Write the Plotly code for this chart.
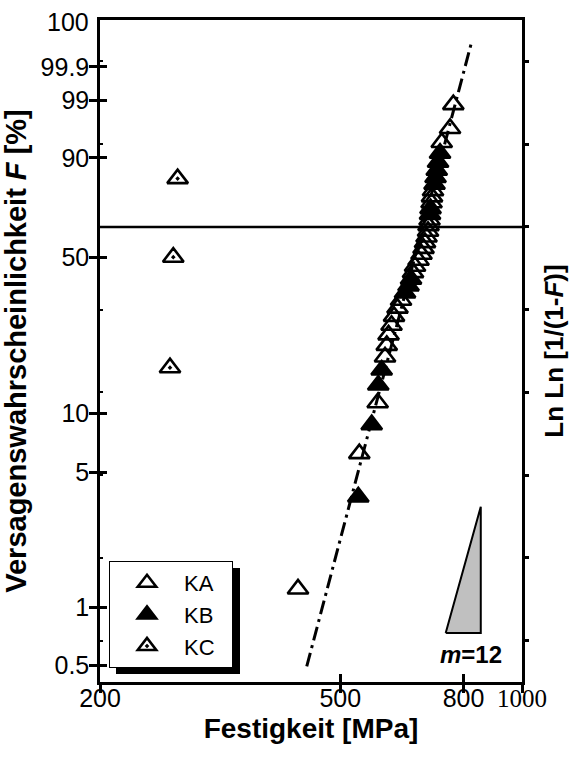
import numpy as np
import plotly.graph_objects as go

# ---------------- data ----------------
ka_strength = [425.6, 537.7, 576.7, 593.1, 597.0, 601.1, 608.0, 613.8, 622.0, 630.4,
               659.9, 665.0, 673.9, 681.6, 686.9, 690.8, 694.8, 698.8, 700.1, 702.8,
               708.2, 709.5, 712.2, 736.3, 760.0, 769.6]
ka_F = [1.25, 6.25, 11.25, 18.75, 21.25, 23.75, 26.25, 28.75, 31.25, 33.75,
        43.75, 46.25, 48.75, 51.25, 53.75, 56.25, 58.75, 61.25, 63.75, 66.25,
        73.75, 76.25, 78.75, 93.75, 96.25, 98.75]

kb_strength = [535.6, 563.7, 578.0, 585.6, 640.1, 648.7, 654.9, 704.1, 705.5, 716.3,
               719.1, 722.4, 726.0, 731.5]
kb_F = [3.75, 8.75, 13.75, 16.25, 36.25, 38.75, 41.25, 68.75, 71.25, 81.25,
        83.75, 86.25, 88.75, 91.25]

kc_strength = [261.2, 264.5, 268.9]
kc_F = [16.67, 50.0, 83.33]

fit_strength = [440, 826]       # end points of the dash-dot Weibull line
weibull_m = 12
weibull_sigma0 = 685

slope_strength = [747.5, 854.5, 854.5, 747.5]   # m=12 slope triangle (closed)
slope_lnln = [-4.909, -4.909, -3.382, -4.909]

y_tick_F = [0.5, 1, 5, 10, 50, 90, 99, 99.9]
y_tick_labels = ["0.5", "1", "5", "10", "50", "90", "99", "99.9"]
lnln_ticks = [-5, -4, -3, -2, -1, 0, 1, 2]
x_tick_vals = [200, 500, 800, 1000]
x_tick_labels = ["200", "500", "800",
                 '<span style="font-family:Liberation Serif">1000</span>']


def lnln(F_pct):
    F = np.asarray(F_pct, dtype=float) / 100.0
    return np.log(-np.log(1.0 - F))


Y_RANGE = [-5.5, 2.5]
X_RANGE = [np.log10(200), 3.0]
SANS = "Liberation Sans, Arial, sans-serif"
LW = 2.5
NB = "\u00a0"
MS = 18

fig = go.Figure()

fig.add_trace(go.Scatter(
    x=ka_strength, y=lnln(ka_F), mode="markers", name="KA" + NB * 2,
    marker=dict(symbol="triangle-up-open", size=MS, color="black",
                line=dict(color="black", width=2.6))))
fig.add_trace(go.Scatter(
    x=kb_strength, y=lnln(kb_F), mode="markers", name="KB" + NB * 2,
    marker=dict(symbol="triangle-up", size=MS, color="black",
                line=dict(color="black", width=2.6))))
fig.add_trace(go.Scatter(
    x=kc_strength, y=lnln(kc_F), mode="markers", name="KC" + NB * 2,
    marker=dict(symbol="triangle-up-open-dot", size=MS, color="black",
                line=dict(color="black", width=2.6))))

fit_y = [weibull_m * (np.log(s) - np.log(weibull_sigma0)) for s in fit_strength]
fig.add_trace(go.Scatter(
    x=fit_strength, y=fit_y, mode="lines", showlegend=False,
    line=dict(color="black", width=3, dash="14px,5px,3px,5px")))

fig.add_trace(go.Scatter(
    x=slope_strength, y=slope_lnln, mode="lines", fill="toself",
    fillcolor="#c0c0c0", showlegend=False,
    line=dict(color="black", width=2)))

# overlay axes only used for extra tick marks
fig.add_trace(go.Scatter(x=[500], y=[0], xaxis="x2", yaxis="y3",
                         mode="markers", marker=dict(opacity=0),
                         showlegend=False, hoverinfo="skip"))
fig.add_trace(go.Scatter(x=[500], y=[0], xaxis="x", yaxis="y2",
                         mode="markers", marker=dict(opacity=0),
                         showlegend=False, hoverinfo="skip"))

fig.add_shape(type="line", xref="paper", yref="y", x0=0, x1=1.008, y0=0, y1=0,
              line=dict(color="black", width=LW))

# legend shadow
fig.add_shape(type="rect", xref="paper", yref="paper",
              x0=(116 - 100) / 422, x1=(240 - 100) / 422,
              y0=(682 - 674) / 662, y1=(682 - 568) / 662,
              fillcolor="black", line=dict(width=0), layer="above")

fig.add_annotation(xref="paper", yref="y", x=0, y=Y_RANGE[1], text="100",
                   showarrow=False, xanchor="right", yanchor="middle", xshift=-9,
                   yshift=-2, font=dict(family=SANS, size=25, color="black"))
fig.add_annotation(xref="x", yref="y", x=np.log10(822), y=-5.17,
                   text="<b><i>m</i>=12</b>", showarrow=False,
                   font=dict(family=SANS, size=24, color="black"))

fig.update_layout(
    width=570, height=758,
    margin=dict(l=100, r=48, t=20, b=76, autoexpand=False),
    paper_bgcolor="white", plot_bgcolor="white",
    font=dict(family=SANS, size=24, color="black"),
    hovermode=False,
    xaxis=dict(type="log", range=X_RANGE, tickvals=x_tick_vals, ticktext=x_tick_labels,
               ticks="outside", ticklen=8, tickwidth=LW, tickcolor="black",
               showline=True, linewidth=LW, linecolor="black", mirror=True,
               showgrid=False, zeroline=False, automargin=False,
               ticklabelstandoff=-16,
               tickfont=dict(family=SANS, size=25, color="black"),
               title=dict(text="<b>Festigkeit [MPa]</b>",
                          font=dict(family=SANS, size=28, color="black"), standoff=8)),
    xaxis2=dict(type="log", range=X_RANGE, overlaying="x", anchor="y", side="bottom",
                tickvals=[500, 800], ticks="inside", ticklen=8, tickwidth=LW,
                tickcolor="black", showticklabels=False, showline=False,
                showgrid=False, zeroline=False, automargin=False),
    yaxis=dict(range=Y_RANGE, tickvals=list(lnln(y_tick_F)), ticktext=y_tick_labels,
               ticks="outside", ticklen=8, tickwidth=LW, tickcolor="black",
               showline=True, linewidth=LW, linecolor="black",
               showgrid=False, zeroline=False, automargin=False,
               ticklabelstandoff=-5,
               tickfont=dict(family=SANS, size=25, color="black"),
               title=dict(text="<b>Versagenswahrscheinlichkeit <i>F</i> [%]</b>",
                          font=dict(family=SANS, size=29, color="black"), standoff=6)),
    yaxis3=dict(range=Y_RANGE, overlaying="y", anchor="x2", side="left",
                tickvals=list(lnln(y_tick_F)), ticks="inside", ticklen=7, tickwidth=LW,
                tickcolor="black", showticklabels=False, showline=False,
                showgrid=False, zeroline=False, automargin=False,
                minor=dict(tickvals=lnln_ticks, ticks="inside", ticklen=3,
                           tickwidth=1.5, tickcolor="black")),
    yaxis2=dict(range=Y_RANGE, overlaying="y", anchor="x", side="right",
                tickvals=lnln_ticks, ticks="outside", ticklen=4, tickwidth=LW,
                tickcolor="black", showticklabels=False,
                showline=True, linewidth=LW, linecolor="black",
                showgrid=False, zeroline=False, automargin=False,
                title=dict(text="<b>Ln Ln [1/(1-<i>F</i>)]</b>",
                           font=dict(family=SANS, size=26, color="black"), standoff=18)),
    legend=dict(x=(109 - 100) / 422, y=(682 - 561) / 662, xanchor="left", yanchor="top",
                bgcolor="white", bordercolor="black", borderwidth=1,
                font=dict(family=SANS, size=22, color="black"),
                itemwidth=64, tracegroupgap=0),
)

fig.write_html("out.html", config={"displayModeBar": False},
               post_script="document.body.style.margin='0';document.body.style.padding='0';")
